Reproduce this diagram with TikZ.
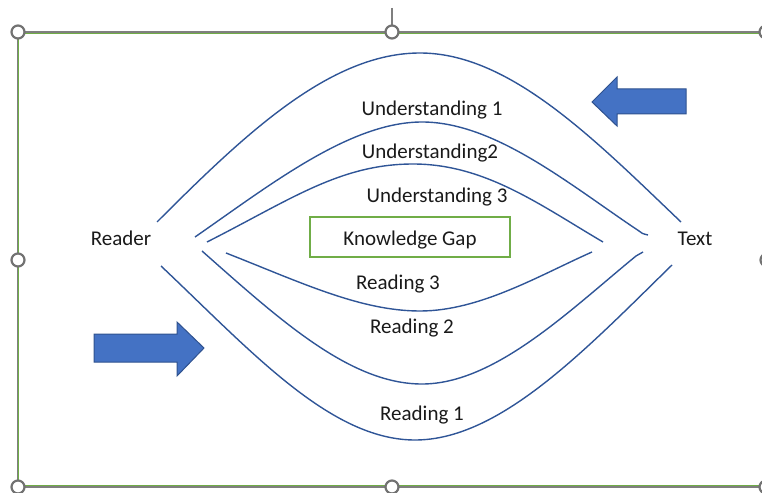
\documentclass[tikz,border=0pt]{standalone}
\usepackage{fontspec}
\setmainfont{Carlito}
\definecolor{curveblue}{HTML}{2F5597}
\definecolor{arrowfill}{HTML}{4472C4}
\definecolor{arrowline}{HTML}{2F528F}
\definecolor{gapgreen}{HTML}{70AD47}
\definecolor{framegray}{HTML}{7F7F7F}
\definecolor{txt}{HTML}{1A1A1A}
\begin{document}
\begin{tikzpicture}[x=1pt,y=-1pt,
  curve/.style={draw=curveblue,line width=1.4pt},
  label/.style={anchor=base,inner sep=0pt,text=txt,font=\fontsize{21}{25}\selectfont},
  blockarrow/.style={fill=arrowfill,draw=arrowline,line width=1pt,line join=miter},
  handle/.style={circle,draw=framegray!90!black,line width=2.2pt,fill=white,minimum size=13pt,inner sep=0pt},
  gapbox/.style={draw=gapgreen,line width=1.8pt,minimum width=200pt,minimum height=40pt,inner sep=0pt,text height=18pt,text depth=2pt,text=txt,font=\fontsize{21}{25}\selectfont}]
\useasboundingbox (0,0) rectangle (762,492);
% selection frame
\draw[framegray,line width=1.2pt] (392,8) -- (392,26);
\draw[gapgreen,line width=0.8pt] (18,33.2) -- (766,33.2);
\draw[framegray,line width=1.5pt] (18,31.9) -- (766,31.9);
\draw[gapgreen,line width=0.8pt] (18,485.8) -- (766,485.8);
\draw[framegray,line width=1.5pt] (18,487.1) -- (766,487.1);
\draw[framegray,line width=0.8pt] (17.6,32) -- (17.6,487);
\draw[gapgreen,line width=1.1pt] (18.4,32) -- (18.4,487);
\node[handle] (h1) at (18,32) {};
\node[handle] (h2) at (392,32) {};
\node[handle] (h3) at (766,32) {};
\node[handle] (h4) at (18,260) {};
\node[handle] (h5) at (767,260) {};
\node[handle] (h6) at (18,487) {};
\node[handle] (h7) at (392,487) {};
\node[handle] (h8) at (766,487) {};
% end labels
\node[label] (reader) at (121,245) {Reader};
\node[label] (text) at (695,245) {Text};
% curve coordinates
\coordinate (u1l) at (157,222); \coordinate (u1p) at (420,53); \coordinate (u1r) at (681,222);
\coordinate (u2l) at (195,237); \coordinate (u2p) at (422,122); \coordinate (u2r) at (648,235);
\coordinate (u3l) at (207,242); \coordinate (u3p) at (413,164); \coordinate (u3r) at (603,242);
\coordinate (r3l) at (226,253); \coordinate (r3p) at (420,311); \coordinate (r3r) at (592,252);
\coordinate (r2l) at (202,251); \coordinate (r2p) at (422,384); \coordinate (r2r) at (643,252);
\coordinate (r1l) at (161,266); \coordinate (r1p) at (415,440); \coordinate (r1r) at (672,265);
% understanding curves
\draw[curve] (u1l) .. controls (245,134) and (330,53) .. (u1p) .. controls (510,53) and (595,140) .. (u1r);
\draw[curve] (u2l) .. controls (270,185) and (350,122) .. (u2p) .. controls (495,122) and (570,185) .. (639,231) .. controls (642,233.5) .. (u2r);
\draw[curve] (u3l) .. controls (290,200) and (340,164) .. (u3p) .. controls (485,164) and (540,205) .. (u3r);
% reading curves
\draw[curve] (r3l) .. controls (300,282) and (360,311) .. (r3p) .. controls (480,311) and (540,275) .. (r3r);
\draw[curve] (r2l) .. controls (280,320) and (350,384) .. (r2p) .. controls (495,384) and (570,310) .. (636,256) .. controls (639,253.5) .. (r2r);
\draw[curve] (r1l) .. controls (250,350) and (330,440) .. (r1p) .. controls (500,440) and (585,350) .. (r1r);
% labels
\node[label] (und1) at (432,115) {Understanding 1};
\node[label] (und2) at (430,158) {Understanding2};
\node[label] (und3) at (437,202) {Understanding 3};
\node[gapbox] (gap) at (410,237) {Knowledge Gap};
\node[label] (rd3) at (398,289) {Reading 3};
\node[label] (rd2) at (412,333) {Reading 2};
\node[label] (rd1) at (422,420) {Reading 1};
% block arrows
\draw[blockarrow] (592,102) -- (617,77) -- (617,89) -- (686,89) -- (686,114) -- (617,114) -- (617,126) -- cycle;
\draw[blockarrow] (204,348) -- (177,322) -- (177,334) -- (94,334) -- (94,362) -- (177,362) -- (177,376) -- cycle;
\end{tikzpicture}
\end{document}
